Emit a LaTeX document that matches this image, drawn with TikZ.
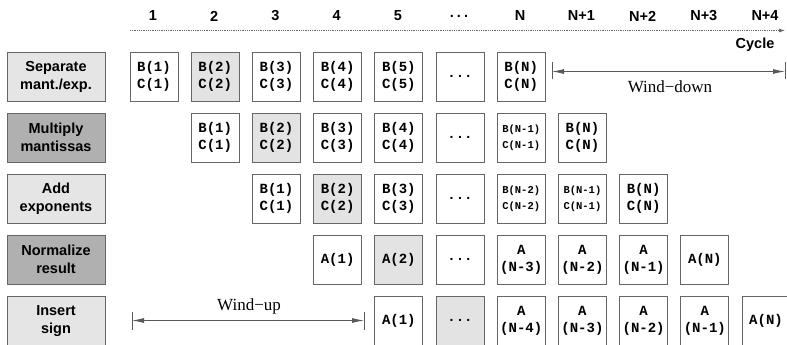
\documentclass[tikz,border=0pt]{standalone}
\usepackage{fontspec}
\setmainfont{Liberation Serif}
\setsansfont{Liberation Sans}
\setmonofont{Liberation Mono}
\usetikzlibrary{arrows.meta}
\begin{document}
\begin{tikzpicture}[x=1pt,y=-1pt,
 cell/.style={draw=black!60, line width=0.8pt, fill=white, minimum width=48pt, minimum height=49pt, inner sep=0pt, align=center, font=\fontsize{14}{17}\ttfamily\bfseries},
 hot/.style={fill=black!11},
 small/.style={font=\fontsize{10.5}{16}\ttfamily\bfseries},
 stage/.style={draw=black!60, line width=0.8pt, minimum width=98pt, minimum height=49pt, inner sep=0pt, align=center, font=\fontsize{14.5}{18}\sffamily\bfseries},
 light/.style={fill=black!10},
 dark/.style={fill=black!31},
 hdr/.style={font=\fontsize{14.5}{16}\sffamily\bfseries, inner sep=0pt},
 span/.style={draw=black!65, line width=0.8pt, {Latex[length=12pt,width=5pt]}-{Latex[length=12pt,width=5pt]}},
 bar/.style={draw=black!65, line width=0.8pt},
 note/.style={font=\fontsize{17}{19}\rmfamily, inner sep=0pt}
]
\useasboundingbox (0,0) rectangle (787,345);
% headers
\foreach \c/\t in {1/1,2/2,3/3,4/4,5/5,6/{.\hspace{3pt}.\hspace{3pt}.},7/N,8/N+1,9/N+2,10/N+3,11/N+4}
  \node[hdr] (h\c) at ({153+(\c-1)*61.2},16) {\t};
\coordinate (axs) at (130,30.5);
\coordinate (axe) at (785,30.5);
\draw[black!60, densely dotted, line width=0.8pt, -{Latex[length=6pt,width=4pt]}] (axs) -- (axe);
\node[hdr] (cyc) at (755,45) {Cycle};
% stages
\node[stage,light] (s1) at (56,76.5) {Separate\\mant./exp.};
\node[stage,dark]  (s2) at (56,137.6) {Multiply\\mantissas};
\node[stage,light] (s3) at (56,198.7) {Add\\exponents};
\node[stage,dark]  (s4) at (56,259.8) {Normalize\\result};
\node[stage,light] (s5) at (56,320.9) {Insert\\sign};
% cells
\foreach \r/\c/\t/\s in {
 1/1/{B(1)\\C(1)}/, 1/2/{B(2)\\C(2)}/hot, 1/3/{B(3)\\C(3)}/, 1/4/{B(4)\\C(4)}/, 1/5/{B(5)\\C(5)}/, 1/6/{...}/, 1/7/{B(N)\\C(N)}/,
 2/2/{B(1)\\C(1)}/, 2/3/{B(2)\\C(2)}/hot, 2/4/{B(3)\\C(3)}/, 2/5/{B(4)\\C(4)}/, 2/6/{...}/, 2/7/{B(N-1)\\C(N-1)}/small, 2/8/{B(N)\\C(N)}/,
 3/3/{B(1)\\C(1)}/, 3/4/{B(2)\\C(2)}/hot, 3/5/{B(3)\\C(3)}/, 3/6/{...}/, 3/7/{B(N-2)\\C(N-2)}/small, 3/8/{B(N-1)\\C(N-1)}/small, 3/9/{B(N)\\C(N)}/,
 4/4/{A(1)}/, 4/5/{A(2)}/hot, 4/6/{...}/, 4/7/{A\\(N-3)}/, 4/8/{A\\(N-2)}/, 4/9/{A\\(N-1)}/, 4/10/{A(N)}/,
 5/5/{A(1)}/, 5/6/{...}/hot, 5/7/{A\\(N-4)}/, 5/8/{A\\(N-3)}/, 5/9/{A\\(N-2)}/, 5/10/{A\\(N-1)}/, 5/11/{A(N)}/}
  \node[cell,\s] (n\r-\c) at ({154+(\c-1)*61.2},{76.5+(\r-1)*61.1}) {\t};
% wind-down
\coordinate (wd1) at (552,71.5);
\coordinate (wd2) at (785,71.5);
\draw[span] (wd1) -- (wd2);
\draw[bar] ([yshift=-8pt]wd1) -- ([yshift=9pt]wd1);
\draw[bar] ([yshift=-8pt]wd2) -- ([yshift=9pt]wd2);
\node[note] (wdt) at (670,87) {Wind−down};
% wind-up
\coordinate (wu1) at (132,320.5);
\coordinate (wu2) at (364,320.5);
\draw[span] (wu1) -- (wu2);
\draw[bar] ([yshift=-9pt]wu1) -- ([yshift=9pt]wu1);
\draw[bar] ([yshift=-9pt]wu2) -- ([yshift=9pt]wu2);
\node[note] (wut) at (249,306) {Wind−up};
\end{tikzpicture}
\end{document}
